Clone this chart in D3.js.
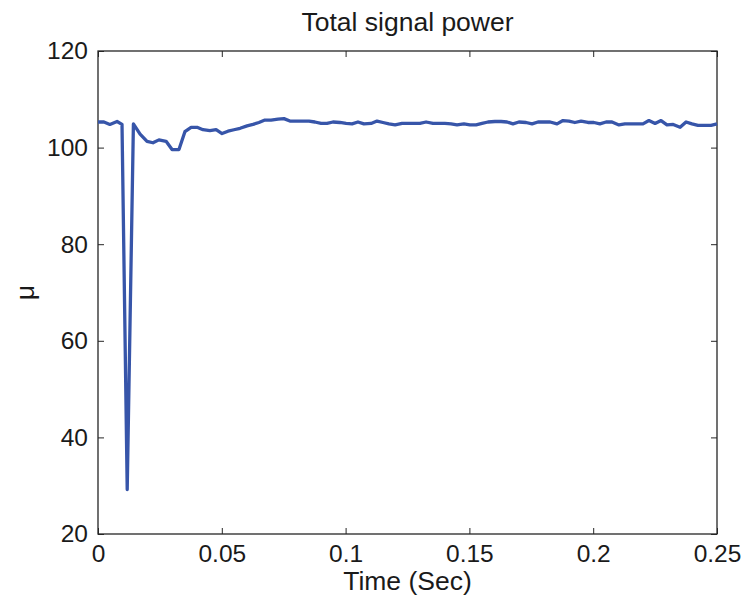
<!DOCTYPE html>
<html>
<head>
<meta charset="utf-8">
<script src="https://cdn.jsdelivr.net/npm/d3@7/dist/d3.min.js"></script>
<style>
  html, body { margin: 0; padding: 0; background: #fff; }
  svg text { font-family: "Liberation Sans", Arial, Helvetica, sans-serif; fill: #1a1a1a; }
</style>
</head>
<body>
<svg id="chart" width="747" height="603"></svg>
<script>
// Sample times (s) and total signal power values
const times = [
  0.0000, 0.0024, 0.0048, 0.0077, 0.0097, 0.0118, 0.0143, 0.0170, 0.0198, 0.0222,
  0.0246, 0.0275, 0.0299, 0.0327, 0.0351, 0.0376, 0.0400, 0.0424, 0.0452, 0.0477,
  0.0501, 0.0525, 0.0549, 0.0574, 0.0602, 0.0626, 0.0650, 0.0674, 0.0699, 0.0727,
  0.0751, 0.0775, 0.0800, 0.0824, 0.0852, 0.0876, 0.0901, 0.0925, 0.0949, 0.0977,
  0.1002, 0.1026, 0.1050, 0.1074, 0.1103, 0.1127, 0.1151, 0.1175, 0.1200, 0.1228,
  0.1252, 0.1276, 0.1300, 0.1325, 0.1353, 0.1377, 0.1401, 0.1426, 0.1450, 0.1478,
  0.1502, 0.1527, 0.1551, 0.1575, 0.1603, 0.1628, 0.1652, 0.1676, 0.1700, 0.1729,
  0.1753, 0.1777, 0.1801, 0.1826, 0.1854, 0.1878, 0.1902, 0.1926, 0.1951, 0.1979,
  0.2003, 0.2027, 0.2052, 0.2076, 0.2104, 0.2128, 0.2153, 0.2177, 0.2201, 0.2225,
  0.2250, 0.2274, 0.2298, 0.2323, 0.2351, 0.2375, 0.2399, 0.2423, 0.2447, 0.2476,
  0.2500
];
const power = [
  105.3, 105.3, 104.8, 105.4, 104.8, 29.2, 104.9, 102.8, 101.3, 101.0,
  101.6, 101.3, 99.6, 99.6, 103.3, 104.2, 104.2, 103.7, 103.5, 103.7,
  102.9, 103.4, 103.7, 104.0, 104.5, 104.8, 105.2, 105.7, 105.7, 105.9,
  106.0, 105.5, 105.5, 105.5, 105.5, 105.3, 105.0, 105.0, 105.3, 105.2,
  105.0, 104.9, 105.3, 104.9, 105.0, 105.5, 105.2, 104.9, 104.7, 105.0,
  105.0, 105.0, 105.0, 105.3, 105.0, 105.0, 105.0, 104.9, 104.7, 104.9,
  104.7, 104.7, 105.0, 105.3, 105.4, 105.4, 105.3, 104.9, 105.3, 105.2,
  104.9, 105.3, 105.3, 105.3, 104.9, 105.6, 105.5, 105.2, 105.5, 105.2,
  105.2, 104.9, 105.3, 105.3, 104.7, 104.9, 104.9, 104.9, 104.9, 105.6,
  105.0, 105.6, 104.7, 104.8, 104.2, 105.3, 104.9, 104.6, 104.6, 104.6,
  104.9
];
const xTicks = [0, 0.05, 0.1, 0.15, 0.2, 0.25];
const xTickLabels = ["0", "0.05", "0.1", "0.15", "0.2", "0.25"];
const yTicks = [20, 40, 60, 80, 100, 120];
const titleText = "Total signal power";
const xLabelText = "Time (Sec)";
const yLabelText = "\u03bc";

const svg = d3.select("#chart");
const margin = { left: 98, top: 51, right: 30, bottom: 69 };
const W = 747, H = 603;
const iw = W - margin.left - margin.right;
const ih = H - margin.top - margin.bottom;

const x = d3.scaleLinear().domain([0, 0.25]).range([0, iw]);
const y = d3.scaleLinear().domain([20, 120]).range([ih, 0]);

const g = svg.append("g").attr("transform", `translate(${margin.left},${margin.top})`);

const tickLen = 6;
const fontSize = 24.5;
const labelSize = 26.5;

// Bottom axis with inward ticks
const xAxis = d3.axisBottom(x).tickValues(xTicks)
  .tickFormat((d, i) => xTickLabels[i]).tickSizeInner(-tickLen).tickSizeOuter(0).tickPadding(11);
const gx = g.append("g").attr("transform", `translate(0,${ih})`).call(xAxis);
// Left axis with inward ticks
const yAxis = d3.axisLeft(y).tickValues(yTicks).tickSizeInner(-tickLen).tickSizeOuter(0).tickPadding(10);
const gy = g.append("g").call(yAxis);
// Mirrored ticks on top and right
const gxt = g.append("g").call(d3.axisTop(x).tickValues(xTicks).tickFormat("").tickSizeInner(-tickLen).tickSizeOuter(0));
const gyr = g.append("g").attr("transform", `translate(${iw},0)`)
  .call(d3.axisRight(y).tickValues(yTicks).tickFormat("").tickSizeInner(-tickLen).tickSizeOuter(0));

[gx, gy, gxt, gyr].forEach(a => {
  a.select(".domain").remove();
  a.selectAll(".tick line").attr("stroke", "#262626").attr("stroke-width", 1);
  a.selectAll("text").style("font-size", fontSize + "px")
    .style("font-family", '"Liberation Sans", Arial, sans-serif').attr("fill", "#1a1a1a");
});

// Plot box
g.append("rect").attr("x", 0).attr("y", 0).attr("width", iw).attr("height", ih)
  .attr("fill", "none").attr("stroke", "#262626").attr("stroke-width", 1.3);

// Signal power line
const line = d3.line().x((d, i) => x(times[i])).y(d => y(d));
g.append("path").datum(power)
  .attr("d", line)
  .attr("fill", "none")
  .attr("stroke", "#3755a9")
  .attr("stroke-width", 3.3)
  .attr("stroke-linejoin", "round");

// Title and axis labels
svg.append("text").attr("x", margin.left + iw / 2).attr("y", 31)
  .attr("text-anchor", "middle").style("font-size", labelSize + "px").text(titleText);
svg.append("text").attr("x", margin.left + iw / 2).attr("y", 590)
  .attr("text-anchor", "middle").style("font-size", labelSize + "px").text(xLabelText);
svg.append("text").attr("transform", `translate(34,${margin.top + ih / 2}) rotate(-90)`)
  .attr("text-anchor", "middle").style("font-size", labelSize + "px").text(yLabelText);
</script>
</body>
</html>
